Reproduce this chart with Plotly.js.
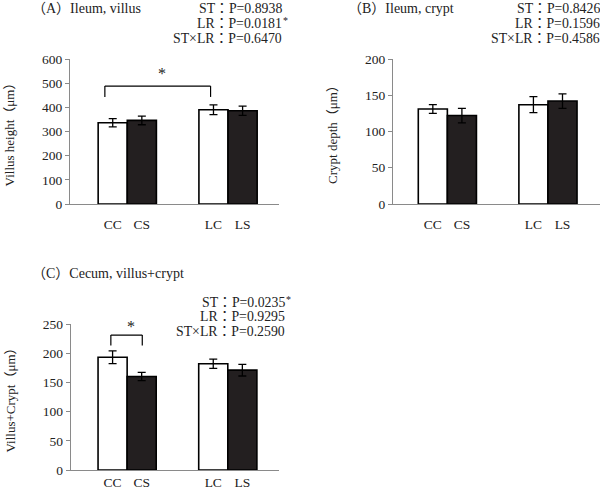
<!DOCTYPE html>
<html>
<head>
<meta charset="utf-8">
<script src="https://cdn.plot.ly/plotly-3.0.1.min.js"></script>
<style>html,body{margin:0;padding:0;background:#fff;}#chart{width:600px;height:491px;}</style>
</head>
<body>
<div id="chart"></div>
<script>
// ---- data ----
var groups = ["CC", "CS", "LC", "LS"];
var groupSlots = [0, 1, 3.46, 4.46];           // x slot for each bar
var fillColors = ["#ffffff", "#231f20", "#ffffff", "#231f20"];

var villusHeight = [336, 346, 390, 386];
var villusHeightErr = [17, 18, 20, 19];

var cryptDepth = [131, 122, 137, 142];
var cryptDepthErr = [6, 10, 11, 10];

var cecumVC = [193, 160, 182, 171];
var cecumVCErr = [11, 7, 8, 10];

var panelTitles = ["（A）Ileum, villus", "（B）Ileum, crypt", "（C）Cecum, villus+crypt"];
var yTitles = ["Villus height（μm）", "Crypt depth（μm）", "Villus+Crypt（μm）"];

var statsA = ["ST：P=0.8938", "LR：P=0.0181", "ST×LR：P=0.6470"];
var starsA = [false, true, false];
var statsB = ["ST：P=0.8426", "LR：P=0.1596", "ST×LR：P=0.4586"];
var starsB = [false, false, false];
var statsC = ["ST：P=0.0235", "LR：P=0.9295", "ST×LR：P=0.2590"];
var starsC = [true, false, false];

// significance brackets: [from group, to group, top value, leg bottom value]
var bracketA = ["CC", "LC", 488, 443];
var bracketC = ["CC", "CS", 231, 213];

// ---- build ----
var FONT = "Liberation Serif, 'Times New Roman', 'Noto Sans CJK JP', serif";
var W = 600, H = 491;
function py(pix){ return (H - pix) / H; }
function px(pix){ return pix / W; }

var traces = [];
function addBars(vals, errs, xa, ya){
  traces.push({
    type: "bar", x: groupSlots, y: vals, width: 1,
    xaxis: xa, yaxis: ya,
    marker: {color: fillColors, line: {color: "#000", width: 1.6}},
    error_y: {type: "data", array: errs, visible: true, color: "#000", thickness: 1.3, width: 4},
    showlegend: false, hoverinfo: "x+y"
  });
}
addBars(villusHeight, villusHeightErr, "x", "y");
addBars(cryptDepth, cryptDepthErr, "x2", "y2");
addBars(cecumVC, cecumVCErr, "x3", "y3");

function xAxis(domain, range, standoff){
  return {domain: domain, range: range, tickmode: "array", tickvals: groupSlots, ticktext: groups,
    showline: true, linecolor: "#8a8a8a", linewidth: 1, ticks: "", showgrid: false, zeroline: false,
    tickfont: {family: FONT, size: 13.5, color: "#222"}, ticklabelstandoff: standoff};
}
function yAxis(domain, range, dtick, title, anchor){
  return {domain: domain, range: range, dtick: dtick, anchor: anchor,
    showline: true, linecolor: "#8a8a8a", linewidth: 1, ticks: "outside", ticklen: 4, tickcolor: "#8a8a8a",
    showgrid: false, zeroline: false,
    tickfont: {family: FONT, size: 13.5, color: "#222"},
    title: {text: title, font: {family: FONT, size: 13, color: "#222"}, standoff: 24}};
}

var layout = {
  width: W, height: H, margin: {l: 0, r: 0, t: 0, b: 0},
  paper_bgcolor: "#fff", plot_bgcolor: "#fff", showlegend: false,
  xaxis:  Object.assign(xAxis([px(70), px(279)], [-1.467, 5.71], 8), {anchor: "y"}),
  yaxis:  yAxis([py(204), py(59)], [0, 600], 100, yTitles[0], "x"),
  xaxis2: Object.assign(xAxis([px(393), 1], [-1.37, 5.75], 8), {anchor: "y2"}),
  yaxis2: yAxis([py(204), py(59)], [0, 200], 50, yTitles[1], "x2"),
  xaxis3: Object.assign(xAxis([px(70.7), px(279)], [-1.44, 5.72], 0), {anchor: "y3"}),
  yaxis3: yAxis([py(470), py(324)], [0, 250], 50, yTitles[2], "x3"),
  annotations: [], shapes: []
};

function note(text, x, y, xanchor, size){
  layout.annotations.push({text: text, xref: "paper", yref: "paper", x: x, y: y,
    xanchor: xanchor, yanchor: "middle", showarrow: false, borderpad: 0,
    font: {family: FONT, size: size || 13.8, color: "#222"}});
}
// panel titles
note(panelTitles[0], px(31), py(8), "left", 14);
note(panelTitles[1], px(347), py(8), "left", 14);
note(panelTitles[2], px(31), py(273), "left", 14);

function stats(lines, stars, rightPix, yPix){
  for (var i = 0; i < lines.length; i++){
    note(lines[i], px(rightPix), py(yPix + 14.6 * i), "right");
    if (stars[i]) note("*", px(rightPix - 1.5), py(yPix + 14.6 * i - 3), "left", 10);
  }
}
stats(statsA, starsA, 283, 9);
stats(statsB, starsB, 601, 9);
stats(statsC, starsC, 286, 302);

function slotOf(g){ return groupSlots[groups.indexOf(g)]; }
function bracket(b, xa, ya, dx0, dx1, yshift){
  var x0 = slotOf(b[0]) + dx0, x1 = slotOf(b[1]) + dx1;
  var common = {type: "line", xref: xa, yref: ya, line: {color: "#000", width: 1.2}};
  layout.shapes.push(Object.assign({x0: x0, x1: x0, y0: b[3], y1: b[2]}, common));
  layout.shapes.push(Object.assign({x0: x0, x1: x1, y0: b[2], y1: b[2]}, common));
  layout.shapes.push(Object.assign({x0: x1, x1: x1, y0: b[2], y1: b[3]}, common));
  layout.annotations.push({text: "*", xref: xa, yref: ya, x: (x0 + x1) / 2 + 0.15,
    y: b[2], yanchor: "bottom", yshift: yshift, showarrow: false,
    font: {family: FONT, size: 16, color: "#222"}});
}
bracket(bracketA, "x", "y", -0.27, -0.1, 2);
bracket(bracketC, "x3", "y3", -0.06, 0.02, -2);

Plotly.newPlot("chart", traces, layout, {staticPlot: true, displayModeBar: false});
</script>
</body>
</html>
